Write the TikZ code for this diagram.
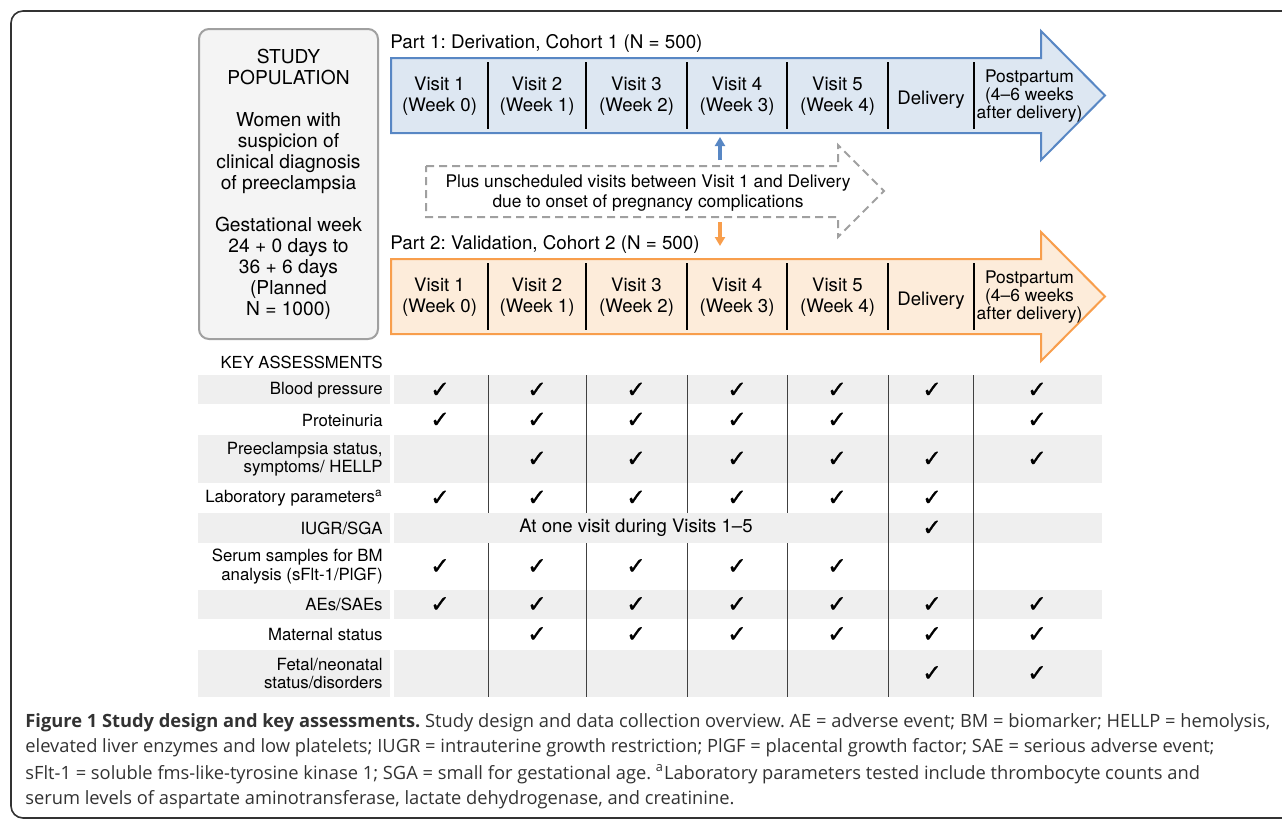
\documentclass[tikz,border=0pt]{standalone}
\usepackage{fontspec}
\setmainfont{TeX Gyre Heros}
\newfontfamily\capfont{Open Sans}
\newfontfamily\tickfont[FakeBold=1.4]{DejaVu Sans}
\usetikzlibrary{arrows.meta, positioning, calc}

\definecolor{derivblue}{RGB}{88, 135, 196}
\definecolor{derivfill}{RGB}{221, 231, 242}
\definecolor{validorange}{RGB}{248, 158, 76}
\definecolor{validfill}{RGB}{253, 236, 218}
\definecolor{popgray}{RGB}{160, 160, 160}
\definecolor{popfill}{RGB}{244, 244, 244}
\definecolor{rowgray}{RGB}{239, 239, 239}
\definecolor{captext}{RGB}{50, 50, 50}

\tikzset{
  cell/.style={align=center, inner sep=0pt, font=\fontsize{9.3}{10.4}\selectfont},
  ppcell/.style={align=center, inner sep=0pt, font=\fontsize{8.7}{9}\selectfont},
  partlabel/.style={anchor=base west, inner sep=0pt, font=\fontsize{9.4}{11}\selectfont},
  divider/.style={line width=1.1pt, black},
  derivarrow/.style={draw=derivblue, fill=derivfill, line width=1pt},
  validarrow/.style={draw=validorange, fill=validfill, line width=1pt},
  popbox/.style={draw=popgray, fill=popfill, line width=1pt, rounded corners=5pt,
    minimum width=89.5pt, minimum height=155pt, align=center, inner sep=0pt,
    font=\fontsize{9.6}{10.5}\selectfont},
  rowlabel/.style={anchor=east, align=right, inner sep=0pt, font=\fontsize{8.4}{9.2}\selectfont},
  gridline/.style={line width=0.5pt, black!75},
  tick/.style={inner sep=0pt, font=\tickfont\fontsize{11.5}{11.5}\selectfont},
  capline/.style={anchor=base west, inner sep=0pt, text=captext, font=\capfont\fontsize{9.15}{10}\selectfont},
}

\begin{document}
\frenchspacing
\begin{tikzpicture}[x=0.5pt, y=-0.5pt]
  \useasboundingbox (0,0) rectangle (1282,821);
  \clip (0,0) rectangle (1282,821);

  % frame
  \draw[black!80, line width=0.8pt, rounded corners=6pt] (11,818) rectangle (1310,11);

  % study population
  \node[popbox] (pop) at (288.5,184) {STUDY\\POPULATION\\[10.5pt]
    Women with\\suspicion of\\clinical diagnosis\\of preeclampsia\\[10.5pt]
    Gestational week\\24 + 0 days to\\36 + 6 days\\(Planned\\N = 1000)};

  % the two cohort arrows
  \foreach \row/\dy/\kind in {b/0/derivarrow, o/201/validarrow} {
    \draw[\kind] (391,58+\dy) -- (1041,58+\dy) -- (1041,31+\dy) -- (1105,95.5+\dy)
      -- (1041,160+\dy) -- (1041,133+\dy) -- (391,133+\dy) -- cycle;
    \foreach \x in {488,586,687,787,888,974}
      \draw[divider] (\x,62+\dy) -- (\x,129+\dy);
    \foreach \i/\x [evaluate=\i as \w using int(\i-1)] in {1/439.5, 2/537, 3/636.5, 4/737, 5/837.5}
      \node[cell] (\row\i) at (\x,96+\dy) {Visit \i\\(Week \w)};
    \node[cell] (\row6) at (931,100+\dy) {Delivery};
    \node[ppcell] (\row7) at (1029.5,96+\dy) {Postpartum\\(4--6 weeks\\after delivery)};
  }
  \node[partlabel] (part1) at (390,48) {Part 1: Derivation, Cohort 1 (N = 500)};
  \node[partlabel] (part2) at (390,249) {Part 2: Validation, Cohort 2 (N = 500)};

  % unscheduled visits
  \draw[popgray, line width=1pt, dash pattern=on 4pt off 2.5pt]
    (426,166) -- (838,166) -- (838,145) -- (884,191) -- (838,237) -- (838,217) -- (426,217) -- cycle;
  \node[cell, font=\fontsize{8.7}{9.6}\selectfont] (extra) at (648,193)
    {Plus unscheduled visits between Visit 1 and Delivery\\due to onset of pregnancy complications};
  \coordinate (upfrom) at (720,160);
  \coordinate (upto) at (720,137);
  \coordinate (downfrom) at (720,222);
  \coordinate (downto) at (720,246);
  \draw[derivblue, line width=1.8pt, -{Triangle[width=5pt, length=4.5pt]}] (upfrom) -- (upto);
  \draw[validorange, line width=1.8pt, -{Triangle[width=5pt, length=4.5pt]}] (downfrom) -- (downto);

  % key assessments
  \node[anchor=base east, inner sep=0pt, font=\fontsize{8.3}{9}\selectfont] (keyhead) at (383,368) {KEY ASSESSMENTS};
  \foreach \ya/\yb in {375/404, 435/483, 513/543, 590/619, 650/697} {
    \fill[rowgray] (198,\ya) rectangle (390,\yb);
    \fill[rowgray] (394,\ya) rectangle (1102,\yb);
  }
  \foreach \x in {488,586,687,787} {
    \draw[gridline] (\x,375) -- (\x,513);
    \draw[gridline] (\x,543) -- (\x,697);
  }
  \foreach \x in {888,973}
    \draw[gridline] (\x,375) -- (\x,697);
  \foreach \c/\x in {1/440, 2/537, 3/636, 4/737, 5/837, 6/932, 7/1037}
    \coordinate (col\c) at (\x,0);

  \foreach \n/\yc/\txt in {1/390/{Blood pressure}, 2/420/{Proteinuria},
      3/459/{Preeclampsia status,\\symptoms/ HELLP}, 4/498/{Laboratory parameters\textsuperscript{a}},
      5/528/{IUGR/SGA}, 6/566.5/{Serum samples for BM\\analysis (sFlt-1/PlGF)},
      7/604.5/{AEs/SAEs}, 8/634.5/{Maternal status}, 9/673.5/{Fetal/neonatal\\status/disorders}}
    \node[rowlabel] (row\n) at (383,\yc) {\txt};

  \foreach \n/\cols in {1/{1,2,3,4,5,6,7}, 2/{1,2,3,4,5,7}, 3/{2,3,4,5,6,7}, 4/{1,2,3,4,5,6},
      5/{6}, 6/{1,2,3,4,5}, 7/{1,2,3,4,5,6,7}, 8/{2,3,4,5,6,7}, 9/{6,7}}
    \foreach \c in \cols
      \node[tick] at (col\c |- row\n) {✓};
  \node[cell] (once) at (col3 |- row5) {At one visit during Visits 1--5};

  % caption
  \node[capline] (cap1) at (25,727) {\textbf{Figure 1 Study design and key assessments.} Study design and data collection overview. AE = adverse event; BM = biomarker; HELLP = hemolysis,};
  \node[capline] (cap2) at (25,752.5) {elevated liver enzymes and low platelets; IUGR = intrauterine growth restriction; PlGF = placental growth factor; SAE = serious adverse event;};
  \node[capline] (cap3) at (25,779) {sFlt-1 = soluble fms-like-tyrosine kinase 1; SGA = small for gestational age. \textsuperscript{a}Laboratory parameters tested include thrombocyte counts and};
  \node[capline] (cap4) at (25,804.5) {serum levels of aspartate aminotransferase, lactate dehydrogenase, and creatinine.};
\end{tikzpicture}
\end{document}
